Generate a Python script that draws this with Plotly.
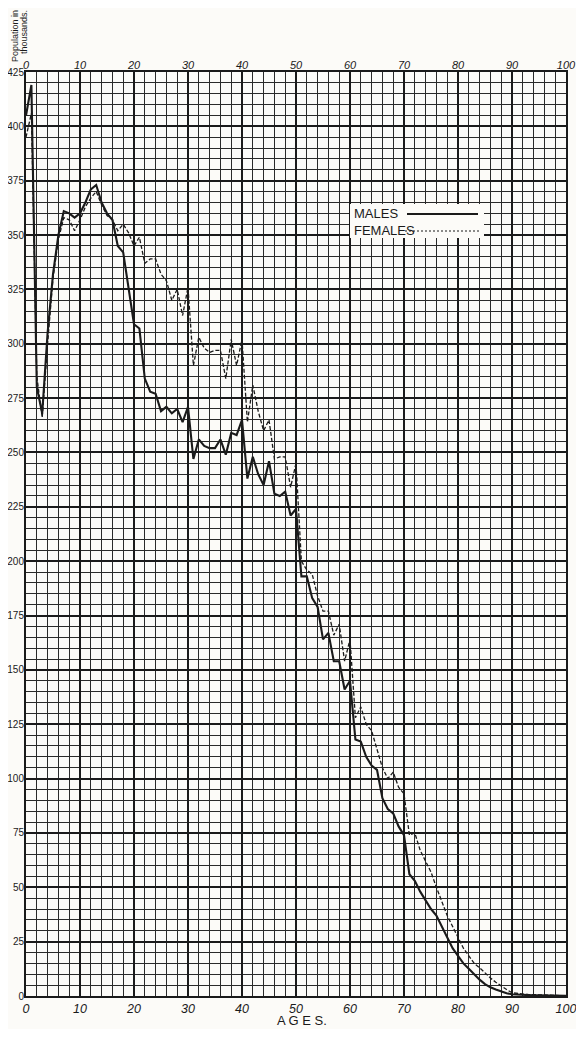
import plotly.graph_objects as go

# --- Data: population (thousands) by single year of age ---
ages = list(range(0, 101))

males = [
    405, 419, 280, 268, 305, 332, 350, 361, 360, 358,
    360, 365, 371, 373, 365, 360, 357, 345, 342, 325,
    309, 307, 284, 278, 277, 269, 271, 268, 270, 264,
    271, 247, 256, 253, 252, 252, 256, 249, 259, 258,
    265, 238, 248, 240, 235, 246, 231, 230, 232, 221,
    224, 193, 193, 183, 179, 164, 167, 154, 154, 141,
    145, 118, 117, 110, 106, 104, 91, 86, 84, 78,
    74, 56, 53, 48, 44, 40, 37, 32, 27, 22,
    18.5, 15, 12.5, 10, 7.5, 5.5, 4, 3, 2, 1.3,
    0.8, 0.6, 0.5, 0.4, 0.3, 0.3, 0.2, 0.2, 0.1, 0.1,
    0.1,
]

females = [
    395, 406, 285, 266, 300, 330, 348, 358, 357, 352,
    357, 363, 367, 370, 364, 359, 357, 352, 355, 351,
    345, 349, 337, 339, 339, 332, 329, 320, 325, 313,
    326, 290, 303, 298, 296, 297, 297, 284, 302, 290,
    302, 264, 281, 269, 260, 265, 247, 248, 248, 234,
    245, 200, 196, 194, 184, 177, 177, 166, 171, 154,
    164, 128, 133, 125, 122, 114, 105, 100, 103, 96,
    93, 74, 75, 67, 62, 57, 50, 43, 37, 32,
    27, 22, 18.5, 15, 13, 10.5, 8.3, 6.3, 4.5, 3,
    1.5, 1.1, 0.9, 0.7, 0.6, 0.5, 0.4, 0.3, 0.2, 0.2,
    0.1,
]

INK = "#1a1a1a"
PAPER = "#fcfbf8"
FONT = "Liberation Sans, Arial, sans-serif"

# page body has an 8px margin on every side; keep the figure inside it
OFF = 8
WIN_W, WIN_H = 584, 1037
FIG_W, FIG_H = WIN_W - 2 * OFF, WIN_H - 2 * OFF
# plot area in window pixels
L, R, T, B = 26, 566, 72, 996
W, H = R - L, B - T


def px(x):
    return (x - L) / W


def py(y):
    return (B - y) / H


fig = go.Figure()

fig.add_trace(go.Scatter(
    x=ages, y=females, mode="lines", name="FEMALES",
    line=dict(color=INK, width=1.3, dash="4px,2px"),
))
fig.add_trace(go.Scatter(
    x=ages, y=males, mode="lines", name="MALES",
    line=dict(color=INK, width=2.1),
))

# invisible trace to drive the top age axis
fig.add_trace(go.Scatter(
    x=[0, 100], y=[0, 0], xaxis="x2", mode="markers",
    marker=dict(opacity=0), showlegend=False, hoverinfo="skip",
))

fig.update_layout(
    width=FIG_W, height=FIG_H,
    margin=dict(l=L - OFF, r=OFF + FIG_W - R, t=T - OFF, b=OFF + FIG_H - B,
                autoexpand=False),
    paper_bgcolor=PAPER, plot_bgcolor=PAPER,
    showlegend=False,
    font=dict(family=FONT, color=INK),
    xaxis=dict(
        range=[0, 100], tickmode="linear", tick0=0, dtick=10, ticks="",
        tickfont=dict(size=12.5, style="italic"),
        showgrid=True, gridcolor=INK, gridwidth=2,
        minor=dict(tickmode="linear", tick0=0, dtick=2, showgrid=True,
                   gridcolor="#2a2a2a", gridwidth=1.1),
        showline=True, linecolor=INK, linewidth=2, mirror=True,
        zeroline=False, ticklabelstandoff=0, automargin=False,
        ticklabeloverflow="allow",
    ),
    xaxis2=dict(
        range=[0, 100], tickmode="linear", tick0=0, dtick=10,
        overlaying="x", side="top",
        ticks="", tickfont=dict(size=11, style="italic"),
        showgrid=False, zeroline=False, ticklabelstandoff=0, automargin=False,
        ticklabeloverflow="allow",
    ),
    yaxis=dict(
        range=[0, 425], tickmode="linear", tick0=0, dtick=25, ticks="",
        tickfont=dict(size=10),
        showgrid=True, gridcolor=INK, gridwidth=2,
        minor=dict(tickmode="linear", tick0=0, dtick=5, showgrid=True,
                   gridcolor="#2a2a2a", gridwidth=1.1),
        showline=True, linecolor=INK, linewidth=2, mirror=True,
        zeroline=False, ticklabelstandoff=-2, automargin=False,
        ticklabeloverflow="allow",
    ),
)

# --- Legend box (hand-drawn style, text then line sample) ---
fig.add_shape(type="rect", xref="paper", yref="paper",
              x0=px(350), x1=px(484), y0=py(238), y1=py(204),
              fillcolor=PAPER, line=dict(width=0), layer="above")
fig.add_shape(type="line", xref="paper", yref="paper",
              x0=px(407), x1=px(478), y0=py(214), y1=py(214),
              line=dict(color=INK, width=2), layer="above")
fig.add_shape(type="line", xref="paper", yref="paper",
              x0=px(405), x1=px(480), y0=py(231), y1=py(231),
              line=dict(color=INK, width=1, dash="2px,2px"), layer="above")
fig.add_annotation(text="MALES", xref="paper", yref="paper",
                   x=px(352), y=py(214), xanchor="left", yanchor="middle",
                   showarrow=False, font=dict(size=13, family=FONT))
fig.add_annotation(text="FEMALES", xref="paper", yref="paper",
                   x=px(352), y=py(231), xanchor="left", yanchor="middle",
                   showarrow=False, font=dict(size=13, family=FONT))

# --- Axis titles ---
fig.add_annotation(text="A G E S.", xref="paper", yref="paper",
                   x=px(302), y=py(1020), xanchor="center", yanchor="middle",
                   showarrow=False, font=dict(size=13, family=FONT))
fig.add_annotation(text="Population in", xref="paper", yref="paper",
                   x=px(15), y=py(36), xanchor="center", yanchor="middle",
                   textangle=-90, font=dict(size=9, family=FONT),
                   showarrow=False)
fig.add_annotation(text="thousands.", xref="paper", yref="paper",
                   x=px(24), y=py(32), xanchor="center", yanchor="middle",
                   textangle=-90, font=dict(size=9, family=FONT),
                   showarrow=False)

fig.write_html("out.html")
